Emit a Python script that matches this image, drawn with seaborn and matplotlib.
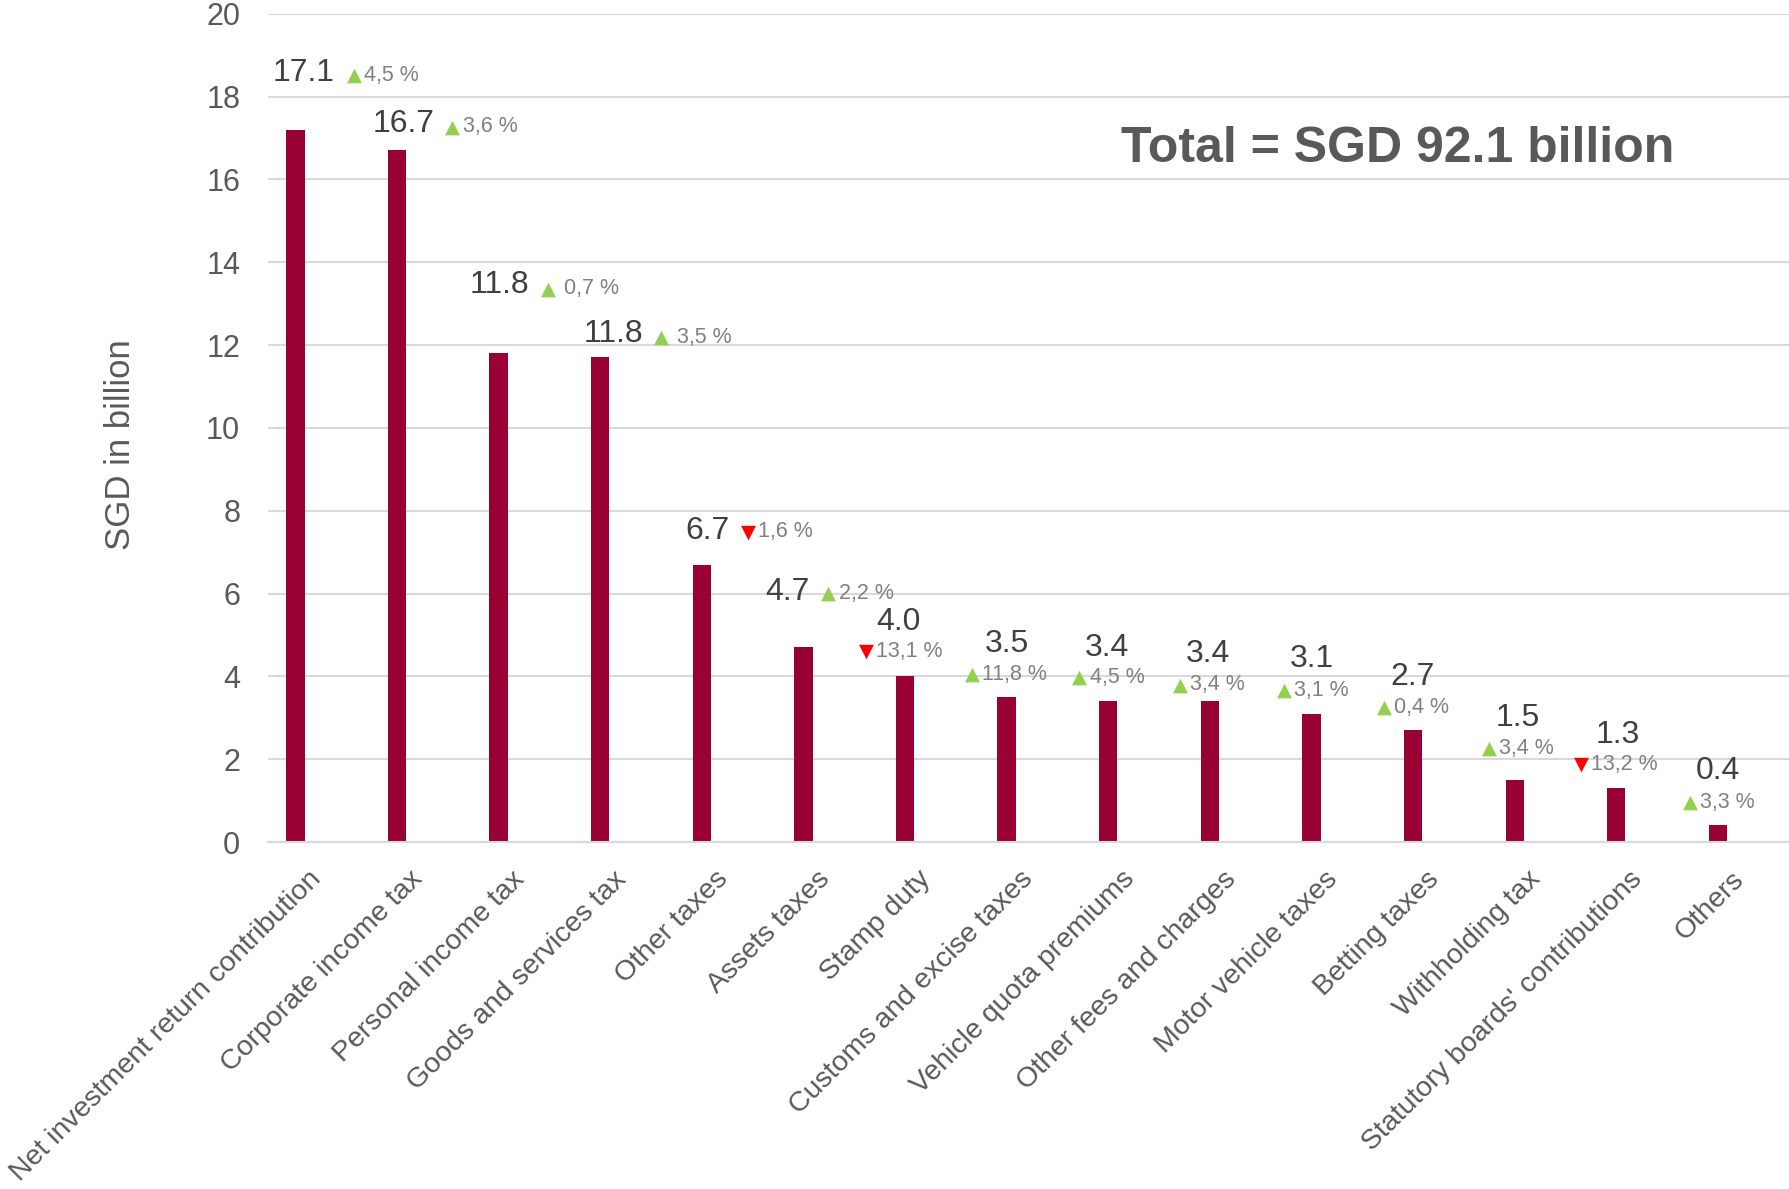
import numpy as np
import pandas as pd
import matplotlib
matplotlib.use("Agg")
import matplotlib.pyplot as plt
from matplotlib import transforms
import seaborn as sns

# %%
categories = [
  "Net investment return contribution",
  "Corporate income tax",
  "Personal income tax",
  "Goods and services tax",
  "Other taxes",
  "Assets taxes",
  "Stamp duty",
  "Customs and excise taxes",
  "Vehicle quota premiums",
  "Other fees and charges",
  "Motor vehicle taxes",
  "Betting taxes",
  "Withholding tax",
  "Statutory boards' contributions",
  "Others",
]
values = [17.2, 16.7, 11.8, 11.7, 6.7, 4.7, 4.0, 3.5, 3.4, 3.4, 3.1, 2.7, 1.5, 1.3, 0.4]
value_labels = ["17.1", "16.7", "11.8", "11.8", "6.7", "4.7", "4.0", "3.5", "3.4", "3.4",
                "3.1", "2.7", "1.5", "1.3", "0.4"]
change_labels = ["4,5 %", "3,6 %", " 0,7 %", " 3,5 %", "1,6 %", "2,2 %", "13,1 %", "11,8 %",
                 "4,5 %", "3,4 %", "3,1 %", "0,4 %", "3,4 %", "13,2 %", "3,3 %"]
change_up = [True, True, True, True, False, True, False, True, True, True, True, True, True, False, True]

# label placement (category units, data units) relative to bar top
val_dx = [0.08, 0.07, 0.01, 0.13, 0.06, -0.16, -0.06, 0.0, -0.01, -0.02, 0.0, 0.0, 0.03, 0.01, 0.0]
val_dy = [1.37, 0.63, 1.64, 0.56, 0.82, 1.33, 1.32, 1.27, 1.28, 1.15, 1.31, 1.29, 1.5, 1.29, 1.31]
tri_dx = [0.58, 0.55, 0.49, 0.60, 0.46, 0.25, -0.38, -0.34, -0.28, -0.29, -0.27, -0.28, -0.25, -0.34, -0.27]
tri_dy = [1.31, 0.57, 1.56, 0.48, 0.79, 1.30, 0.60, 0.55, 0.57, 0.40, 0.56, 0.55, 0.76, 0.57, 0.56]

df = pd.DataFrame({"category": categories, "value": values})

# %%
fig = plt.figure(figsize=(17.9, 11.89), dpi=100)
ax = fig.add_axes([0.1497, 0.2918, 0.8503, 0.6967])
fam = ["Liberation Sans", "DejaVu Sans"]
plt.rcParams["font.family"] = fam

sns.barplot(
  data=df,
  x="category",
  y="value",
  color="#990033",
  width=0.18,
  saturation=1,
  ax=ax,
)
ax.set_ylim(0, 20)
ax.set_xlim(-0.27, 14.71)
ax.set_yticks(range(0, 21, 2))
ax.yaxis.grid(True, color="#D9D9D9", linewidth=1.5)
ax.set_axisbelow(True)
for s in ["top", "right", "left"]:
  ax.spines[s].set_visible(False)
ax.spines["bottom"].set_color("#D9D9D9")
ax.spines["bottom"].set_linewidth(1.5)
ax.tick_params(axis="both", length=0, labelcolor="#595959")
ax.tick_params(axis="y", labelsize=22, pad=20)
ax.tick_params(axis="x", labelsize=20.5, pad=24)

ax.set_xticks(range(len(categories)))
ax.set_xticklabels(categories, rotation=45, ha="right", va="center",
                   rotation_mode="anchor", family=fam)
offset = transforms.ScaledTranslation(0.22, 0, fig.dpi_scale_trans)
for lab in ax.get_xticklabels():
  lab.set_transform(lab.get_transform() + offset)
for lab in ax.get_yticklabels():
  lab.set_family(fam)

ax.set_xlabel("")
ax.set_ylabel("SGD in billion", fontsize=25, color="#595959", family=fam)
ax.yaxis.set_label_coords(-0.086, 0.48)

for i, v in enumerate(values):
  ax.text(i + val_dx[i], v + val_dy[i], value_labels[i], ha="center", va="center",
          fontsize=23, color="#404040", family=fam)
  tx, ty = i + tri_dx[i], v + tri_dy[i]
  ax.text(tx, ty, "▲" if change_up[i] else "▼", ha="center", va="center",
          fontsize=14, color="#92D050" if change_up[i] else "#FF0000", family="DejaVu Sans")
  ax.annotate(change_labels[i], xy=(tx, ty), xytext=(7, 0), textcoords="offset points",
              ha="left", va="center", fontsize=15.5, color="#808080", family=fam)

fig.text(0.781, 0.875, "Total = SGD 92.1 billion", ha="center", va="center",
         fontsize=36, fontweight="bold", color="#595959", family=fam)

plt.savefig("out.png", dpi=100)
